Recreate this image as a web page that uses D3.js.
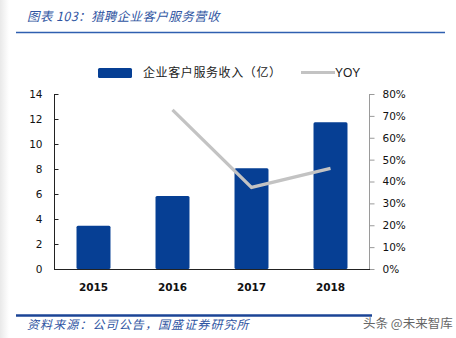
<!DOCTYPE html>
<html>
<head>
<meta charset="utf-8">
<script src="https://cdn.jsdelivr.net/npm/d3@7"></script>
<style>
  html, body { margin: 0; padding: 0; background: #fff; }
  svg { display: block; }
</style>
</head>
<body>
<svg id="chart" width="456" height="338"></svg>
<script>
// Liepin enterprise-customer service revenue (100M RMB) and year-on-year growth
const years = ["2015", "2016", "2017", "2018"];
const revenue = [3.46, 5.85, 8.06, 11.74];
const yoy = [null, 0.727, 0.373, 0.46];
const leftTicks = [0, 2, 4, 6, 8, 10, 12, 14];
const rightTicks = [0, 0.1, 0.2, 0.3, 0.4, 0.5, 0.6, 0.7, 0.8];

const titleText = "图表 103：猎聘企业客户服务营收";
const sourceText = "资料来源：公司公告，国盛证券研究所";
const barLabel = "企业客户服务收入（亿）";
const lineLabel = "YOY";
const markText = "头条 @未来智库";

const BLUE = "#063f94";
const GREY = "#c3c3c3";
const TXT_BLUE = "#2f55a2";
const NUM_FONT = "'DejaVu Sans', Verdana, sans-serif";
const CJK_FONT = "'Noto Sans CJK SC', sans-serif";

const svg = d3.select("#chart");

// soft grey edge on the left side of the page
const defs = svg.append("defs");
const grad = defs.append("linearGradient").attr("id", "edge").attr("x1", 0).attr("x2", 1);
grad.append("stop").attr("offset", 0).attr("stop-color", "#e9e9e9");
grad.append("stop").attr("offset", 1).attr("stop-color", "#ffffff");
svg.append("rect").attr("x", 0).attr("y", 0).attr("width", 9).attr("height", 338).attr("fill", "url(#edge)");

// title and rule
svg.append("text")
  .attr("x", 27).attr("y", 21)
  .attr("font-family", CJK_FONT).attr("font-size", 12.5).attr("font-style", "italic")
  .attr("letter-spacing", 0.4)
  .attr("fill", TXT_BLUE)
  .text(titleText);
svg.append("line").attr("x1", 16).attr("x2", 445).attr("y1", 32.5).attr("y2", 32.5)
  .attr("stroke", "#2f5fb0").attr("stroke-width", 1.5);

// scales
const plot = { left: 54, right: 370, top: 94, bottom: 269 };
const x = d3.scaleBand().domain(years).range([plot.left, plot.right])
  .paddingInner(0.57).paddingOuter(0.285);
const yL = d3.scaleLinear().domain([0, 14]).range([plot.bottom, plot.top]);
const yR = d3.scaleLinear().domain([0, 0.8]).range([plot.bottom, plot.top]);

// bars
svg.append("g").selectAll("rect").data(years).join("rect")
  .attr("x", d => x(d))
  .attr("y", (d, i) => yL(revenue[i]))
  .attr("width", x.bandwidth())
  .attr("height", (d, i) => yL(0) - yL(revenue[i]))
  .attr("rx", 1.5)
  .attr("fill", BLUE);

// YOY line
const line = d3.line()
  .defined(d => d.v != null)
  .x(d => x(d.year) + x.bandwidth() / 2)
  .y(d => yR(d.v));
svg.append("path")
  .datum(years.map((year, i) => ({ year, v: yoy[i] })))
  .attr("d", line)
  .attr("fill", "none")
  .attr("stroke", GREY)
  .attr("stroke-width", 3.2)
  .attr("stroke-linejoin", "miter");

// left axis
const gL = svg.append("g").attr("transform", `translate(${plot.left + 0.5},0)`)
  .call(d3.axisLeft(yL).tickValues(leftTicks).tickSize(-4).tickPadding(12).tickFormat(d3.format("d")));
gL.select(".domain").attr("stroke", "#222").attr("d", `M0,${plot.top}V${plot.bottom}`);
gL.selectAll(".tick line").attr("stroke", "#222");
gL.selectAll("text").attr("font-family", NUM_FONT).attr("font-size", 10.5).attr("fill", "#111");

// right axis
const gR = svg.append("g").attr("transform", `translate(${plot.right - 0.5},0)`)
  .call(d3.axisRight(yR).tickValues(rightTicks).tickSize(5).tickPadding(8).tickFormat(d3.format(".0%")));
gR.select(".domain").attr("stroke", "#9a9a9a").attr("d", `M0,${plot.top}V${plot.bottom}`);
gR.selectAll(".tick line").attr("stroke", "#9a9a9a");
gR.selectAll("text").attr("font-family", NUM_FONT).attr("font-size", 10.5).attr("fill", "#111");

// bottom axis
const gB = svg.append("g").attr("transform", `translate(0,${plot.bottom + 0.5})`)
  .call(d3.axisBottom(x).tickSize(0).tickPadding(14));
gB.select(".domain").attr("stroke", "#222").attr("d", `M${plot.left},0H${plot.right}`);
gB.selectAll("text").attr("font-family", NUM_FONT).attr("font-size", 10.5)
  .attr("font-weight", "bold").attr("fill", "#111");

// legend
const lg = svg.append("g");
lg.append("rect").attr("x", 98).attr("y", 68).attr("width", 34).attr("height", 10).attr("rx", 1.5).attr("fill", BLUE);
lg.append("text").attr("x", 143).attr("y", 77)
  .attr("font-family", CJK_FONT).attr("font-size", 12).attr("letter-spacing", 0.6).attr("fill", "#222")
  .text(barLabel);
lg.append("line").attr("x1", 301).attr("x2", 335).attr("y1", 72.5).attr("y2", 72.5)
  .attr("stroke", GREY).attr("stroke-width", 3.2);
lg.append("text").attr("x", 335).attr("y", 77)
  .attr("font-family", "'Liberation Sans', Arial, sans-serif").attr("font-size", 12).attr("fill", "#222")
  .text(lineLabel);

// footer
svg.append("line").attr("x1", 16).attr("x2", 372).attr("y1", 315.5).attr("y2", 315.5)
  .attr("stroke", "#1b4496").attr("stroke-width", 2.5);
svg.append("text").attr("x", 27).attr("y", 329)
  .attr("font-family", CJK_FONT).attr("font-size", 12).attr("font-style", "italic")
  .attr("letter-spacing", 1.1)
  .attr("fill", TXT_BLUE)
  .text(sourceText);
svg.append("text").attr("x", 363).attr("y", 328)
  .attr("font-family", CJK_FONT).attr("font-size", 12.5).attr("fill", "#666")
  .text(markText);
</script>
</body>
</html>
